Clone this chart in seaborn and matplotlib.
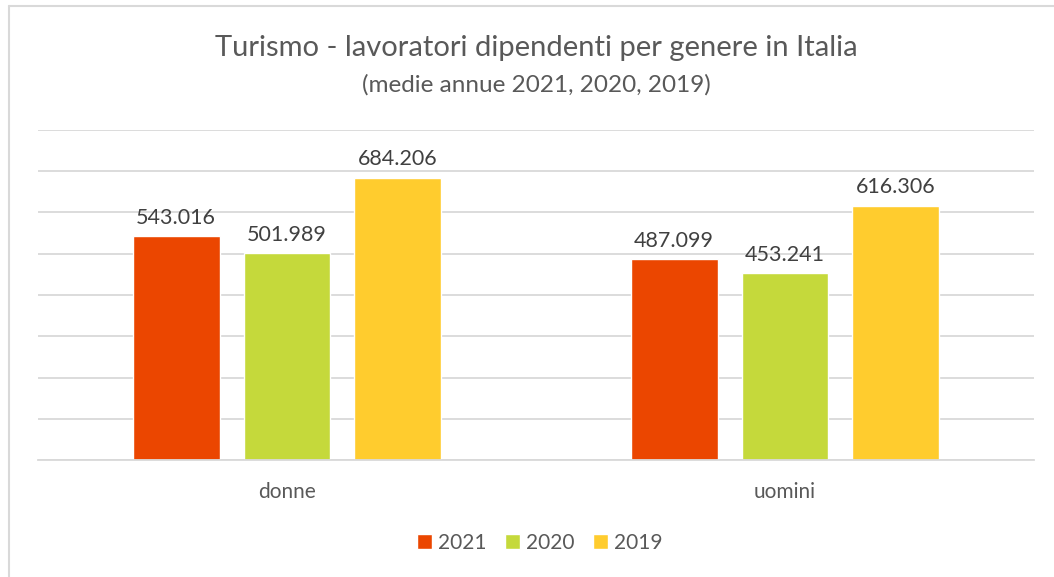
import matplotlib
matplotlib.use("Agg")
import matplotlib.pyplot as plt
import seaborn as sns
import pandas as pd
from matplotlib.lines import Line2D

categories = ["donne", "uomini"]
years = ["2021", "2020", "2019"]
values_2021 = [543016, 487099]
values_2020 = [501989, 453241]
values_2019 = [684206, 616306]
colors = ["#EB4600", "#C5D93B", "#FFCC2E"]

rows = []
for y, vals in zip(years, [values_2021, values_2020, values_2019]):
    for c, v in zip(categories, vals):
        rows.append({"genere": c, "anno": y, "valore": v})
df = pd.DataFrame(rows)

sns.set_theme(style="white")
plt.rcParams["font.family"] = ["Lato", "DejaVu Sans"]
text_color = "#595959"

fig = plt.figure(figsize=(10.54, 5.77), dpi=100)
ax = fig.add_axes([38 / 1054, 1 - 460 / 577, (1034 - 38) / 1054, (460 - 130) / 577])

sns.barplot(data=df, x="genere", y="valore", hue="anno", hue_order=years,
            palette=colors, width=0.668, gap=0.216, ax=ax, saturation=1,
            legend=True)

for cont in ax.containers:
    ax.bar_label(cont, labels=[f"{v:,.0f}".replace(",", ".") for v in cont.datavalues],
                 padding=6, fontsize=15.5, color="#404040")

ax.set_ylim(0, 800000)
ax.set_yticks(range(0, 800001, 100000))
ax.yaxis.grid(True, color="#D9D9D9", linewidth=1.3)
ax.set_axisbelow(True)
ax.tick_params(axis="y", left=False, labelleft=False)
ax.tick_params(axis="x", bottom=False, labelsize=15, labelcolor=text_color, pad=10)
ax.set_xlabel("")
ax.set_ylabel("")
for s in ["top", "right", "left"]:
    ax.spines[s].set_visible(False)
ax.spines["bottom"].set_color("#D9D9D9")
ax.spines["bottom"].set_linewidth(1.3)

handles, labels = ax.get_legend_handles_labels()
ax.get_legend().remove()
fig.legend(handles, labels, loc="center", bbox_to_anchor=(540 / 1054, 1 - 543 / 577),
           ncol=3, frameon=False, fontsize=15, labelcolor=text_color,
           handlelength=0.7, handleheight=0.7, handletextpad=0.3, columnspacing=0.9)

fig.text(536 / 1054, 1 - 48 / 577, "Turismo - lavoratori dipendenti per genere in Italia",
         ha="center", va="center", fontsize=21, color=text_color)
fig.text(536 / 1054, 1 - 85 / 577, "(medie annue 2021, 2020, 2019)",
         ha="center", va="center", fontsize=17.5, color=text_color)

fig.add_artist(Line2D([8.5 / 1054, 8.5 / 1054], [0, 1 - 6 / 577], transform=fig.transFigure,
                      color="#D9D9D9", linewidth=1.5))
fig.add_artist(Line2D([8.5 / 1054, 1], [1 - 6 / 577, 1 - 6 / 577], transform=fig.transFigure,
                      color="#D9D9D9", linewidth=1.5))

fig.savefig("out.png", dpi=100)
